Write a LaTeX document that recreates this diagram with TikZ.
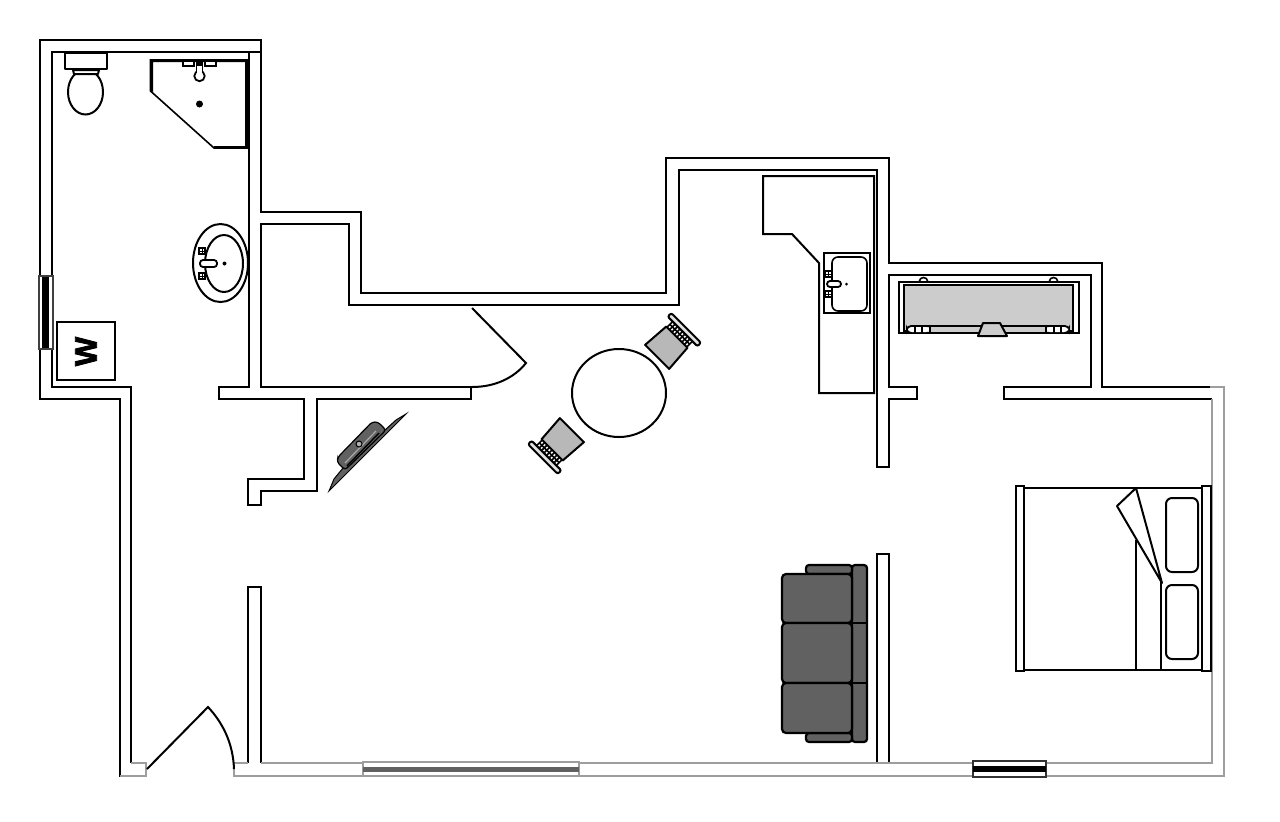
\documentclass[tikz,border=0pt]{standalone}
\usepackage{fontspec}
\setmainfont{Liberation Sans}
\newfontfamily\wfont[FakeBold=2.5]{Liberation Sans Bold}
\definecolor{wallgrey}{gray}{0.62}
\definecolor{sofagrey}{gray}{0.38}
\definecolor{seatgrey}{gray}{0.72}
\definecolor{tubgrey}{gray}{0.80}
\tikzset{
  wall/.style={draw=black,line width=1.1pt,line join=miter},
  lightwall/.style={draw=wallgrey,line width=0.8pt,line join=miter},
  fixture/.style={draw=black,line width=1pt,fill=white,line join=round},
  sofapart/.style={draw=black,line width=1.1pt,fill=sofagrey,rounded corners=1.5pt},
  knob/.style={draw=black,line width=0.7pt,fill=white},
}
\newcommand{\knobat}[2]{%
  \draw[knob] (#1-3,#2-3) rectangle (#1+3,#2+3);
  \draw[line width=0.4pt] (#1-3,#2) -- (#1+3,#2) (#1,#2-3) -- (#1,#2+3);}
\newcommand{\chairat}[3]{%
  \begin{scope}[shift={(#1,#2)},rotate=#3]
    \foreach \r in {-14,-10.5,-7,-3.5,0,3.5,7,10.5,14}
      \draw[line width=0.8pt] (\r,-14) -- (\r,-23);
    \draw[line width=0.8pt] (-14,-18) -- (14,-18);
    \draw[line width=1pt,fill=seatgrey,line join=round] (-17,14) -- (17,14) -- (15,-14) -- (-15,-14) -- cycle;
    \draw[line width=1pt,fill=seatgrey!40,rounded corners=1pt] (-21,-22) rectangle (21,-27);
  \end{scope}}
\begin{document}
\begin{tikzpicture}[x=0.5pt,y=-0.5pt]
\useasboundingbox (0,0) rectangle (1280,821);
% walls
\draw[wall] (146,776) -- (120,776) -- (120,399) -- (40,399) -- (40,40) -- (261,40) -- (261,212) -- (361,212) -- (361,293) -- (666,293) -- (666,158) -- (889,158) -- (889,263) -- (1102,263) -- (1102,387) -- (1215,387);
\draw[wall] (131,763) -- (131,387) -- (52,387) -- (52,52) -- (261,52);
\draw[wall] (249,52) -- (249,387) -- (219,387) -- (219,399) -- (304,399) -- (304,479) -- (248,479) -- (248,505) -- (261,505) -- (261,491) -- (317,491) -- (317,399) -- (471,399) -- (471,387) -- (261,387) -- (261,224) -- (349,224) -- (349,305) -- (679,305) -- (679,170) -- (877,170) -- (877,467) -- (889,467) -- (889,399) -- (917,399) -- (917,387) -- (889,387) -- (889,275) -- (1091,275) -- (1091,387) -- (1004,387) -- (1004,399) -- (1212,399);
\draw[wall] (248,763) -- (248,587) -- (261,587) -- (261,763);
\draw[wall] (877,763) -- (877,554) -- (889,554) -- (889,763);
\draw[lightwall] (131,763) -- (146,763) -- (146,776) -- (120,776);
\draw[lightwall] (248,763) -- (234,763) -- (234,776) -- (1224,776) -- (1224,387) -- (1210,387);
\draw[lightwall] (1212,399) -- (1212,763) -- (261,763);
% windows
\draw[draw=black!75,line width=0.7pt,fill=white] (39,276) rectangle (53,349);
\fill[black] (42,277) rectangle (49,348);
\draw[draw=wallgrey,line width=0.7pt,fill=white] (363,762) rectangle (579,776);
\fill[sofagrey] (363,767) rectangle (579,772);
\draw[draw=black!80,line width=0.8pt,fill=white] (973,761) rectangle (1046,777);
\fill[black] (973,766) rectangle (1046,772);
% doors
\draw[line width=1pt] (147,769) -- (208,707) .. controls (222,722) and (233,742) .. (234,769);
\draw[line width=1pt,line join=miter] (472,308) -- (526,363) .. controls (514,378) and (495,387) .. (472,387);
% toilet
\draw[fixture] (65,53) rectangle (107,69);
\draw[fixture] (85.5,92) ellipse[x radius=17.5,y radius=22.5];
\draw[fixture] (73,70) -- (99,70) -- (98,74) -- (74,74) -- cycle;
% shower
\draw[line width=0.8pt,fill=white] (150.5,60) -- (248,60) -- (248,148) -- (214,148) -- (150.5,91) -- cycle;
\fill[black] (150,59) -- (248,59) -- (248,62) -- (153,62) -- (153,92) -- (150,90) -- cycle;
\fill[black] (245,59) rectangle (249,149);
\fill[black] (214,146) rectangle (249,149);
\draw[knob] (183,61) rectangle (194,66);
\draw[knob] (205,61) rectangle (216,66);
\draw[line width=0.9pt,fill=white] (199.5,76) circle[radius=5.2];
\fill[black] (196,62) rectangle (203,66);
\fill[white] (197.3,66) rectangle (201.7,74);
\draw[line width=0.9pt] (196.5,64) -- (196.5,72) (202.5,64) -- (202.5,72);
\fill (199.5,104) circle[radius=3.5];
% bath basin
\draw[fixture] (220.5,263) ellipse[x radius=27.5,y radius=39];
\draw[fixture] (224,263.5) ellipse[x radius=19,y radius=28.5];
\knobat{202}{251}
\knobat{202}{276}
\draw[knob,line width=0.9pt,rounded corners=1.5pt] (200,260) rectangle (217,267);
\fill (224.5,263.5) circle[radius=2];
% W box
\draw[draw=black,line width=0.8pt,fill=white] (57,322) rectangle (115,380);
\node[rotate=90,font=\wfont\fontsize{15.5}{15.5}\selectfont,inner sep=0pt] (washer) at (86,351.5) {W};
% counter
\draw[draw=black,line width=1pt] (763,176) -- (874,176) -- (874,393) -- (819,393) -- (819,263) -- (792,234) -- (763,234) -- cycle;
\draw[draw=black,line width=0.9pt,fill=white] (824,253) rectangle (870,313);
\draw[line width=0.8pt,rounded corners=3pt] (832,257) rectangle (867,311);
\knobat{828.5}{274}
\knobat{828.5}{294}
\draw[knob,line width=0.9pt,rounded corners=1.5pt] (827,281) rectangle (841,287);
\fill (846.5,284) circle[radius=1.5];
% tub
\draw[line width=0.8pt,fill=white] (923.5,281) ellipse[x radius=4,y radius=3.5];
\draw[line width=0.8pt,fill=white] (1053.5,281) ellipse[x radius=4,y radius=3.5];
\draw[line width=0.8pt,fill=white] (899,282) rectangle (1079,333);
\draw[line width=1pt,fill=tubgrey] (904,285) rectangle (1073,331);
\draw[line width=0.9pt,fill=tubgrey,rounded corners=2pt] (907,326) rectangle (1069,333);
\fill[white,rounded corners=2pt] (908,327) rectangle (930,332);
\fill[white,rounded corners=2pt] (1046,327) rectangle (1068,332);
\draw[line width=0.8pt] (930,326) -- (930,333) (922,326) -- (922,333) (915,326) -- (915,333);
\draw[line width=0.8pt] (1046,326) -- (1046,333) (1054,326) -- (1054,333) (1061,326) -- (1061,333);
\draw[line width=1pt,fill=tubgrey,line join=round] (978,336) -- (983,323) -- (1000,323) -- (1007,336) -- cycle;
% table and chairs
\draw[line width=1pt] (619,393) ellipse[x radius=47,y radius=44];
\chairat{667}{347}{-45}
\chairat{562}{440}{135}
% TV unit
\draw[line width=0.5pt,fill=sofagrey] (329,491) -- (334,479) -- (343,468) -- (385,430) -- (396,420) -- (406,414) -- cycle;
\draw[line width=0.6pt,fill=sofagrey,rounded corners=1.5pt] (345,470) -- (337,462) -- (338,457) -- (372,422) -- (378,422) -- (386,430) -- cycle;
\draw[line width=0.6pt,draw=sofagrey!55] (345,463) -- (376,431);
\draw[line width=0.7pt] (347,466) -- (379,433);
\draw[line width=0.5pt,fill=sofagrey!50] (359,444) circle[radius=3];
% sofa
\draw[sofapart] (852,565) rectangle (867,742);
\draw[sofapart] (852,565) -- (806,565) -- (806,574) -- (852,574) -- cycle;
\draw[sofapart] (852,742) -- (806,742) -- (806,733) -- (852,733) -- cycle;
\draw[line width=1.1pt] (852,623) -- (867,623) (852,683) -- (867,683);
\draw[sofapart,rounded corners=2pt] (782,574) rectangle (852,623);
\draw[sofapart,rounded corners=2pt] (782,623) rectangle (852,683);
\draw[sofapart,rounded corners=2pt] (782,683) rectangle (852,733);
% bed
\draw[line width=1pt] (1024,487.5) -- (1202,487.5) (1024,669.5) -- (1202,669.5);
\draw[line width=1pt,fill=white] (1016,486) rectangle (1024,671);
\draw[line width=1pt,fill=white] (1202,486) rectangle (1211,671);
\draw[line width=1pt] (1136,540) -- (1136,669.5) (1160.7,578) -- (1160.7,669.5);
\draw[line width=1pt,line join=round] (1136,488) -- (1117,506) -- (1162,583) -- cycle;
\draw[line width=1pt,rounded corners=3pt] (1166,498) rectangle (1198,572);
\draw[line width=1pt,rounded corners=3pt] (1166,585) rectangle (1198,659);
\end{tikzpicture}
\end{document}
